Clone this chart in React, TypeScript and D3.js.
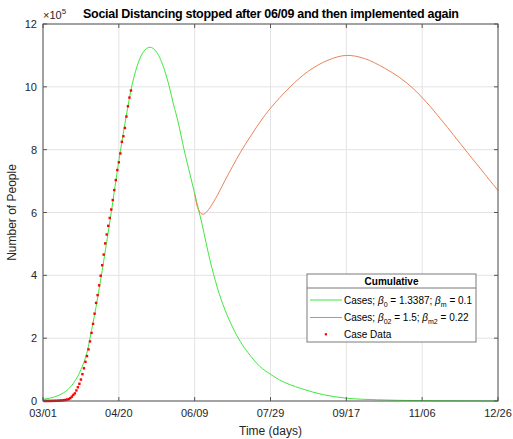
import React from "react";
import * as d3 from "d3";

// Case data: cumulative cases, 03/01 .. 04/27 (day index starts at 1)
const caseValues = [
  75, 100, 124, 158, 221, 319, 435, 541, 704, 994, 1301, 1630, 2183, 2770, 3613, 4596, 6344, 9197,
  13779, 19367, 24192, 33592, 43781, 54856, 68211, 85435, 104126, 124686, 143055, 164359, 189618,
  216722, 245540, 277965, 312245, 337072, 368196, 398809, 432132, 466033, 501615, 529951, 557571,
  582594, 609516, 639664, 671331, 703117, 735086, 759786, 787960, 825041, 842624, 869170, 905358,
  938154, 965785, 988197,
];
const caseDays = caseValues.map((_, i) => i + 1);

// Model 1 (green): beta0 = 1.3387, betam = 0.1  (values in 1e5)
const greenDays = [0, 5, 10, 15, 20, 25, 30, 31, 35, 38, 40, 45, 50, 55, 58, 62, 66, 70.5, 75, 80, 83.3, 86, 89, 93, 97, 100, 105, 110, 115, 120, 125, 130, 135, 143, 150, 156, 170, 185, 200, 220, 250, 275, 300];
const greenValues = [0.055, 0.097, 0.175, 0.31, 0.56, 1.0, 1.75, 2.0, 3.0, 3.85, 4.45, 6.0, 7.65, 9.1, 9.9, 10.65, 11.1, 11.26, 11.1, 10.55, 10.0, 9.45, 8.9, 8.0, 7.2, 6.6, 5.6, 4.5, 3.6, 2.9, 2.35, 1.9, 1.55, 1.1, 0.85, 0.67, 0.4, 0.2, 0.09, 0.04, 0.012, 0.005, 0.002];

// Model 2 (orange): beta02 = 1.5, betam2 = 0.22 (values in 1e5), starts 06/09
const orangeDays = [100, 102, 104, 105.5, 107, 110, 115, 120, 125, 130, 137, 144, 150, 163, 175, 188, 200, 212, 225, 235, 244, 253, 262.8, 280, 300];
const orangeValues = [6.6, 6.15, 5.98, 5.94, 5.98, 6.15, 6.55, 7.02, 7.47, 7.9, 8.44, 8.94, 9.32, 10.0, 10.5, 10.85, 11.0, 10.9, 10.6, 10.3, 9.95, 9.5, 8.94, 7.9, 6.7];

const xTickDays = [0, 50, 100, 150, 200, 250, 300];
const xTickLabels = ["03/01", "04/20", "06/09", "07/29", "09/17", "11/06", "12/26"];
const yTicks = [0, 2, 4, 6, 8, 10, 12];

const W = 513, H = 439;
const L = 43, T = 24, R = 498, B = 401;
const FONT = "'Liberation Sans', Arial, Helvetica, sans-serif";

export default function App() {
  const x = d3.scaleLinear().domain([0, 300]).range([L, R]);
  const y = d3.scaleLinear().domain([0, 12]).range([B, T]);

  const greenLine = d3
    .line<[number, number]>()
    .x((d) => x(d[0]))
    .y((d) => y(d[1]))
    .curve(d3.curveMonotoneX);
  const orangeLine = d3
    .line<[number, number]>()
    .x((d) => x(d[0]))
    .y((d) => y(d[1]))
    .curve(d3.curveCatmullRom.alpha(0.5));

  const greenPath = greenLine(greenDays.map((d, i) => [d, greenValues[i]] as [number, number])) || "";
  const orangePath = orangeLine(orangeDays.map((d, i) => [d, orangeValues[i]] as [number, number])) || "";

  const axisColor = "#555";
  const textColor = "#262626";
  const green = "#3fe83f";
  const orange = "#e9835a";

  const lg = { x0: 307, x1: 476, y0: 274, y1: 342 };

  return (
    <svg width={W} height={H} style={{ position: "absolute", left: 0, top: 0 }} fontFamily={FONT}>
      <rect x={0} y={0} width={W} height={H} fill="#fff" />
      <rect x={L} y={T} width={R - L} height={B - T} fill="#fff" />
      {/* grid */}
      {xTickDays.map((d) => (
        <line key={"gx" + d} x1={x(d)} x2={x(d)} y1={T} y2={B} stroke="#e3e3e3" strokeWidth={1} />
      ))}
      {yTicks.map((v) => (
        <line key={"gy" + v} x1={L} x2={R} y1={y(v)} y2={y(v)} stroke="#e3e3e3" strokeWidth={1} />
      ))}
      {/* curves */}
      <path d={greenPath} fill="none" stroke={green} strokeWidth={1} />
      <path d={orangePath} fill="none" stroke={orange} strokeWidth={1} />
      {caseDays.map((d, i) => (
        <rect key={"c" + i} x={x(d) - 1.2} y={y(caseValues[i] / 1e5) - 1.2} width={2.4} height={2.4} fill="#ff0000" />
      ))}
      {/* axes box */}
      <rect x={L} y={T} width={R - L} height={B - T} fill="none" stroke={axisColor} strokeWidth={1} />
      {xTickDays.map((d) => (
        <g key={"tx" + d}>
          <line x1={x(d)} x2={x(d)} y1={B} y2={B - 4} stroke={axisColor} />
          <line x1={x(d)} x2={x(d)} y1={T} y2={T + 4} stroke={axisColor} />
        </g>
      ))}
      {yTicks.map((v) => (
        <g key={"ty" + v}>
          <line x1={L} x2={L + 4} y1={y(v)} y2={y(v)} stroke={axisColor} />
          <line x1={R} x2={R - 4} y1={y(v)} y2={y(v)} stroke={axisColor} />
        </g>
      ))}
      {/* tick labels */}
      {xTickDays.map((d, i) => (
        <text key={"lx" + d} x={x(d)} y={B + 16} fontSize={11} textAnchor="middle" fill={textColor}>
          {xTickLabels[i]}
        </text>
      ))}
      {yTicks.map((v) => (
        <text key={"ly" + v} x={L - 6} y={y(v) + 4} fontSize={11} textAnchor="end" fill={textColor}>
          {v}
        </text>
      ))}
      {/* exponent */}
      <text x={L} y={T - 5} fontSize={11} fill={textColor}>
        ×10<tspan dy={-5} fontSize={8}>5</tspan>
      </text>
      {/* title */}
      <text x={(L + R) / 2 + 0.5} y={T - 6} fontSize={12.5} fontWeight="bold" textAnchor="middle" fill="#000"
        textLength={376} lengthAdjust="spacing">
        Social Distancing stopped after 06/09 and then implemented again
      </text>
      {/* axis labels */}
      <text x={(L + R) / 2} y={435} fontSize={12} textAnchor="middle" fill={textColor}>
        Time (days)
      </text>
      <text transform={`translate(16,${(T + B) / 2}) rotate(-90)`} fontSize={12} textAnchor="middle" fill={textColor}>
        Number of People
      </text>
      {/* legend */}
      <rect x={lg.x0} y={lg.y0} width={lg.x1 - lg.x0} height={lg.y1 - lg.y0} fill="#fff" stroke="#7a7a7a" strokeWidth={1} />
      <line x1={lg.x0} x2={lg.x1} y1={288} y2={288} stroke="#7a7a7a" strokeWidth={1} />
      <text x={(lg.x0 + lg.x1) / 2} y={285} fontSize={10} fontWeight="bold" textAnchor="middle" fill="#000">
        Cumulative
      </text>
      <line x1={310} x2={342} y1={300} y2={300} stroke={green} strokeWidth={1} />
      <line x1={310} x2={342} y1={317.5} y2={317.5} stroke={orange} strokeWidth={1} />
      <rect x={324.8} y={333.2} width={2.2} height={2.2} fill="#ff0000" />
      <text x={344} y={303.5} fontSize={10} fill="#000">
        Cases; <tspan fontStyle="italic">β</tspan>
        <tspan dy={3} fontSize={7}>0</tspan>
        <tspan dy={-3}> = 1.3387; </tspan>
        <tspan fontStyle="italic">β</tspan>
        <tspan dy={3} fontSize={7}>m</tspan>
        <tspan dy={-3}> = 0.1</tspan>
      </text>
      <text x={344} y={321} fontSize={10} fill="#000">
        Cases; <tspan fontStyle="italic">β</tspan>
        <tspan dy={3} fontSize={7}>02</tspan>
        <tspan dy={-3}> = 1.5; </tspan>
        <tspan fontStyle="italic">β</tspan>
        <tspan dy={3} fontSize={7}>m2</tspan>
        <tspan dy={-3}> = 0.22</tspan>
      </text>
      <text x={344} y={338} fontSize={10} fill="#000">
        Case Data
      </text>
    </svg>
  );
}
